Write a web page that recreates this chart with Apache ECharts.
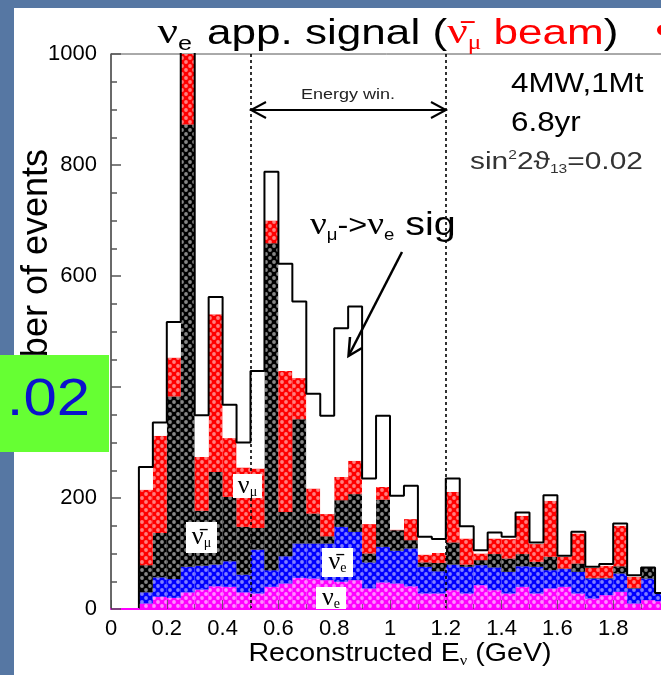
<!DOCTYPE html>
<html>
<head>
<meta charset="utf-8">
<script src="https://cdn.jsdelivr.net/npm/echarts/dist/echarts.min.js"></script>
<style>
  html, body { margin: 0; padding: 0; width: 661px; height: 675px; overflow: hidden; background: #5677a3; }
  #chart { width: 661px; height: 675px; }
</style>
</head>
<body>
<div id="chart"></div>
<script>
// Reconstructed-energy bins (lower edges, GeV), 0.05 GeV wide
const binLow = ['0.00','0.05','0.10','0.15','0.20','0.25','0.30','0.35','0.40','0.45',
                '0.50','0.55','0.60','0.65','0.70','0.75','0.80','0.85','0.90','0.95',
                '1.00','1.05','1.10','1.15','1.20','1.25','1.30','1.35','1.40','1.45',
                '1.50','1.55','1.60','1.65','1.70','1.75','1.80','1.85','1.90','1.95'];
const binWidth = 0.05;

// Event counts per bin for each stacked component (bottom to top)
const nue     = [0,0,10,22,20,30,35,41,40,30,28,40,46,56,55,52,49,52,37,48,46,41,28,28,34,28,43,34,28,40,28,37,40,28,19,25,31,10,16,14];
const nuebar  = [0,0,20,35,34,46,43,39,46,32,79,30,49,62,63,66,99,87,47,64,59,68,48,40,46,48,36,41,39,37,48,33,32,39,36,30,33,27,39,14];
const numubar = [0,0,49,80,329,797,99,167,116,86,39,589,80,224,54,13,48,68,16,85,37,15,8,15,40,4,9,24,24,22,9,24,1,15,1,1,13,1,20,1];
const numu    = [0,0,136,175,70,147,97,284,106,107,107,41,254,74,45,40,42,60,53,23,1,38,14,18,91,47,12,28,35,69,32,101,21,54,18,22,73,20,0,0];
const signal  = [0,0,41,24,64,25,75,31,60,45,176,88,193,138,171,177,268,278,82,128,61,60,32,25,24,22,6,11,4,6,3,10,2,3,2,3,4,3,0,0];

// Axis ranges and the analysis energy window
const xRange = [0, 2];
const xStep = 0.2;
const yRange = [0, 1000];
const yStep = 200;
const energyWindow = [0.5, 1.2];

const total = binLow.map((_, i) => nue[i] + nuebar[i] + numubar[i] + numu[i] + signal[i]);

// Step outline of the summed histogram
const outline = [];
binLow.forEach((lo, i) => {
  const x0 = parseFloat(lo), x1 = x0 + binWidth;
  if (!outline.length && total[i] === 0) return;
  if (!outline.length) outline.push([x0, 0]);
  outline.push([x0, total[i]], [x1, total[i]]);
});
outline.push([xRange[1], 0]);

function dots(col) {
  return { symbol: 'circle', symbolSize: 0.95, color: col,
           dashArrayX: [[3.5, 3.5], [0, 3.5, 3.5, 0]], dashArrayY: [3.5, 0] };
}

function barSeries(name, data, color, decalColor) {
  return {
    name, type: 'bar', stack: 'all', data,
    xAxisIndex: 0, yAxisIndex: 0,
    barCategoryGap: '0%',
    itemStyle: { color, decal: decalColor ? dots(decalColor) : null },
    emphasis: { disabled: true }, z: 2
  };
}

const chart = echarts.init(document.getElementById('chart'), null, { renderer: 'canvas' });

const SANS = 'Liberation Sans, Arial, sans-serif';
const SERIF = 'Liberation Serif, Times New Roman, serif';
const plainNumber = v => (Math.abs(v - Math.round(v)) < 1e-9 ? String(Math.round(v)) : v.toFixed(1));

chart.setOption({
  animation: false,
  backgroundColor: 'transparent',
  grid: { left: 111, width: 558, top: 54, height: 555, outerBoundsMode: 'none', containLabel: false,
          show: true, borderColor: '#555', borderWidth: 1, backgroundColor: 'transparent' },
  xAxis: [
    { type: 'category', data: binLow, gridIndex: 0, show: false, boundaryGap: true },
    {
      type: 'value', gridIndex: 0, min: xRange[0], max: xRange[1], interval: xStep, position: 'bottom', z: 10,
      axisLine: { show: true, lineStyle: { color: '#ff00ff', width: 2 } },
      axisTick: { show: true, inside: true, length: 9, lineStyle: { color: 'rgba(70,70,70,0.7)' } },
      minorTick: { show: true, splitNumber: 2, length: 5, lineStyle: { color: 'rgba(70,70,70,0.6)' } },
      splitLine: { show: false },
      axisLabel: { color: '#000', fontFamily: SANS, fontSize: 22, margin: 9, formatter: plainNumber }
    }
  ],
  yAxis: {
    type: 'value', min: yRange[0], max: yRange[1], interval: yStep, z: 10,
    axisLine: { show: true, lineStyle: { color: '#555', width: 1.5 } },
    axisTick: { show: true, inside: true, length: 10, lineStyle: { color: '#555', width: 1.5 } },
    minorTick: { show: true, splitNumber: 4, length: 6, lineStyle: { color: '#555', width: 1.5 } },
    splitLine: { show: false },
    axisLabel: { color: '#000', fontFamily: SANS, fontSize: 22, margin: 14, formatter: v => String(v) }
  },
  series: [
    barSeries('νe', nue, '#ff00ff', 'rgba(255,190,255,0.75)'),
    barSeries('ν̄e', nuebar, '#0000ff', 'rgba(170,170,255,0.75)'),
    barSeries('ν̄μ', numubar, '#000000', 'rgba(150,150,150,0.9)'),
    barSeries('νμ', numu, '#ff0000', 'rgba(255,170,170,0.75)'),
    barSeries('νμ→νe', signal, '#ffffff', null),
    {
      name: 'total', type: 'line', data: outline, xAxisIndex: 1, yAxisIndex: 0,
      symbol: 'none', lineStyle: { color: '#000', width: 2 }, z: 5, clip: true,
      emphasis: { disabled: true },
      markLine: {
        silent: true, symbol: 'none', label: { show: false },
        lineStyle: { color: '#000', type: [3, 3], width: 1.6 },
        data: energyWindow.map(x => ({ xAxis: x }))
      }
    }
  ]
});

// Annotations
const g = [];
g.push({ type: 'rect', z: -10, shape: { x: 14, y: 8, width: 661, height: 675 }, style: { fill: '#fff' } });
g.push({ type: 'circle', z: 50, shape: { cx: 662, cy: 30, r: 5 }, style: { fill: '#ff0000' } });

// title
g.push({
  type: 'text', z: 50, x: 388, y: 34, scaleX: 1.26,
  style: {
    text: '{a|ν}{s|e}{c| app. signal (}{ra|ν̄}{rs|μ}{rc| beam}{c|)}',
    align: 'center', verticalAlign: 'middle',
    rich: {
      a: { fontFamily: SERIF, fontSize: 36, lineHeight: 40, fill: '#000' },
      s: { fontFamily: SANS, fontSize: 20, lineHeight: 40, verticalAlign: 'bottom', padding: [0, 2, 0, 0], fill: '#000' },
      c: { fontFamily: SANS, fontSize: 35, lineHeight: 40, fill: '#000' },
      ra: { fontFamily: SERIF, fontSize: 36, lineHeight: 40, fill: '#ff0000' },
      rs: { fontFamily: SERIF, fontSize: 20, lineHeight: 40, verticalAlign: 'bottom', fill: '#ff0000' },
      rc: { fontFamily: SANS, fontSize: 35, lineHeight: 40, fill: '#ff0000' }
    }
  }
});

// exposure text
g.push({ type: 'text', z: 50, x: 511, y: 84, scaleX: 1.12, style: { text: '4MW,1Mt', fontFamily: SANS, fontSize: 28, fill: '#000', verticalAlign: 'middle' } });
g.push({ type: 'text', z: 50, x: 511, y: 123, scaleX: 1.12, style: { text: '6.8yr', fontFamily: SANS, fontSize: 28, fill: '#000', verticalAlign: 'middle' } });
g.push({
  type: 'text', z: 50, x: 470, y: 163, scaleX: 1.3,
  style: {
    text: '{a|sin}{p|2}{a|2ϑ}{b|13}{a|=0.02}', verticalAlign: 'middle',
    rich: {
      a: { fontFamily: SANS, fontSize: 23, lineHeight: 26, fill: '#333' },
      p: { fontFamily: SANS, fontSize: 12, lineHeight: 26, verticalAlign: 'top', fill: '#333' },
      b: { fontFamily: SANS, fontSize: 12, lineHeight: 26, verticalAlign: 'bottom', fill: '#333' }
    }
  }
});

// energy window arrow
g.push({ type: 'polyline', z: 50, shape: { points: [[251, 110], [446, 110]] }, style: { stroke: '#000', lineWidth: 2, fill: null } });
g.push({ type: 'polyline', z: 50, shape: { points: [[266, 102], [251, 110], [266, 118]] }, style: { stroke: '#000', lineWidth: 2, fill: null } });
g.push({ type: 'polyline', z: 50, shape: { points: [[431, 102], [446, 110], [431, 118]] }, style: { stroke: '#000', lineWidth: 2, fill: null } });
g.push({ type: 'text', z: 50, x: 348, y: 95, scaleX: 1.2, style: { text: 'Energy win.', fontFamily: SANS, fontSize: 15, fill: '#222', align: 'center', verticalAlign: 'middle' } });

// signal annotation
g.push({
  type: 'text', z: 50, x: 310, y: 226, scaleX: 1.16,
  style: {
    text: '{n|ν}{s|μ}{a|->}{n|ν}{s|e}{b| sig}', verticalAlign: 'middle',
    rich: {
      n: { fontFamily: SERIF, fontSize: 32, lineHeight: 36, fill: '#000' },
      s: { fontFamily: SANS, fontSize: 16, lineHeight: 36, verticalAlign: 'bottom', fill: '#000' },
      a: { fontFamily: SANS, fontSize: 28, lineHeight: 36, fill: '#000' },
      b: { fontFamily: SANS, fontSize: 34, lineHeight: 36, fill: '#000' }
    }
  }
});
g.push({ type: 'polyline', z: 50, shape: { points: [[402, 252], [349, 355]] }, style: { stroke: '#000', lineWidth: 2.5, fill: null } });
g.push({ type: 'polyline', z: 50, shape: { points: [[350, 337], [348.5, 356], [362, 348]] }, style: { stroke: '#000', lineWidth: 2.5, fill: null } });

// component labels
function tag(x, y, w, h, nu, sub) {
  g.push({ type: 'rect', z: 40, shape: { x, y, width: w, height: h }, style: { fill: '#fff' } });
  g.push({
    type: 'text', z: 41, x: x + w / 2, y: y + h / 2,
    style: {
      text: '{n|' + nu + '}{s|' + sub + '}', align: 'center', verticalAlign: 'middle',
      rich: {
        n: { fontFamily: SERIF, fontSize: 26, lineHeight: 26, fill: '#000' },
        s: { fontFamily: SERIF, fontSize: 14, lineHeight: 26, verticalAlign: 'bottom', fill: '#000' }
      }
    }
  });
}
tag(233, 474, 29, 24, 'ν', 'μ');
tag(186, 522, 31, 31, 'ν̄', 'μ');
tag(322, 548, 31, 29, 'ν̄', 'e');
tag(316, 587, 30, 22, 'ν', 'e');

// axis titles
g.push({ type: 'text', z: 30, x: 37, y: 149, rotation: Math.PI / 2,
  style: { text: 'Number of events', fontFamily: SANS, fontSize: 36, fill: '#000', align: 'right', verticalAlign: 'middle' } });
g.push({
  type: 'text', z: 30, x: 400, y: 654, scaleX: 1.1,
  style: {
    text: '{a|Reconstructed E}{s|ν}{a| (GeV)}', align: 'center', verticalAlign: 'middle',
    rich: {
      a: { fontFamily: SANS, fontSize: 26, lineHeight: 30, fill: '#000' },
      s: { fontFamily: SERIF, fontSize: 15, lineHeight: 30, verticalAlign: 'bottom', fill: '#000' }
    }
  }
});

// inset box on the left edge
g.push({ type: 'rect', z: 60, shape: { x: 0, y: 355, width: 109, height: 97 }, style: { fill: '#66ff33' } });
g.push({ type: 'text', z: 61, x: 90, y: 401, scaleX: 1.15,
  style: { text: '.02', fontFamily: SANS, fontSize: 52, fill: '#0b12cc', align: 'right', verticalAlign: 'middle' } });

chart.setOption({ graphic: { elements: g } });
</script>
</body>
</html>
